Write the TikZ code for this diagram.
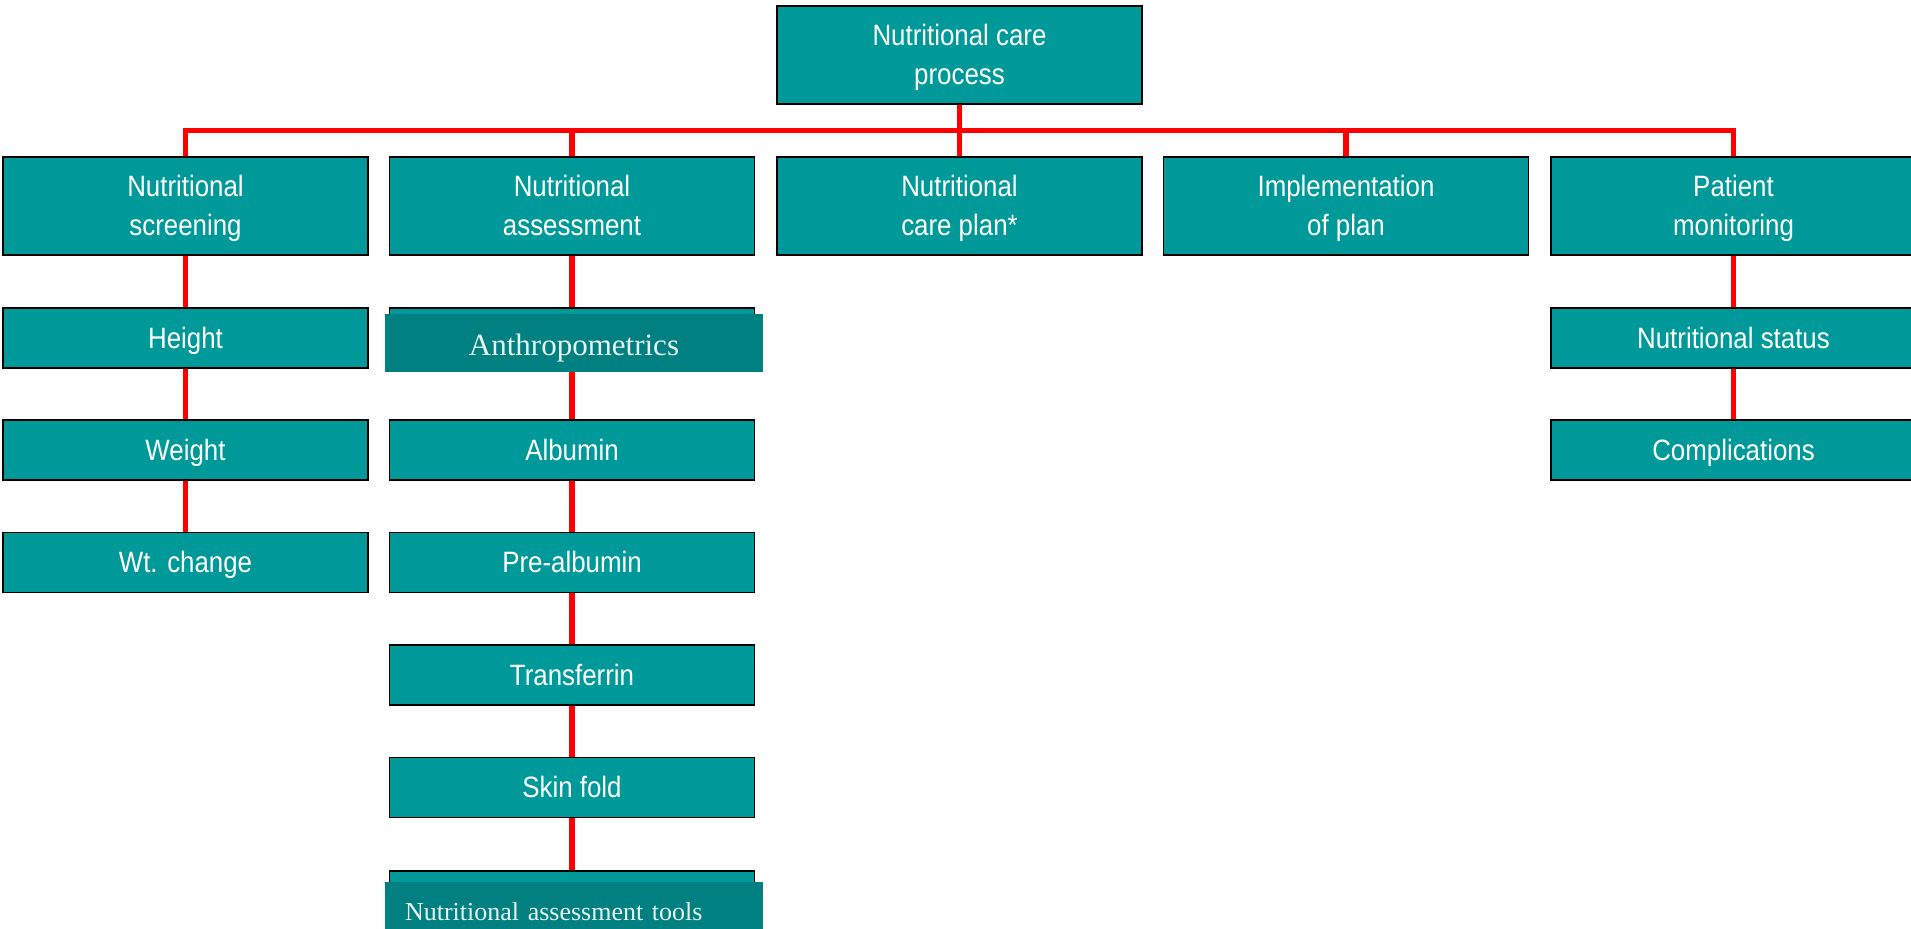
\documentclass[tikz,border=0pt]{standalone}
\usepackage{fontspec}
\setmainfont{Liberation Serif}
\newfontfamily\boxfont[FakeStretch=0.88]{Liberation Sans}
\usetikzlibrary{calc}

\definecolor{boxteal}{RGB}{0,153,153}
\definecolor{darkteal}{RGB}{0,128,128}
\definecolor{paletext}{RGB}{232,244,244}

\tikzset{
  mainbox/.style={draw=black, line width=0.7pt, fill=boxteal, text=white,
    minimum width=182.5pt, minimum height=49pt, inner sep=0pt, align=center,
    font=\boxfont\fontsize{14.7}{19.5}\selectfont, text depth=0.8pt},
  subbox/.style={mainbox, minimum height=30pt, text height=13.2pt, text depth=3.1pt},
  tealcover/.style={fill=darkteal, text=paletext, minimum width=189pt,
    minimum height=29pt, inner sep=0pt, text depth=0pt},
  link/.style={red, line width=2.6pt}
}

\begin{document}
\begin{tikzpicture}[x=0.5pt, y=-0.5pt]
\clip (0,0) rectangle (1911,929);

\node[mainbox] (top) at (959.5,55) {Nutritional care\\process};

\node[mainbox] (scr) at (185.5,206) {Nutritional\\screening};
\node[mainbox] (ass) at (572,206) {Nutritional\\assessment};
\node[mainbox] (plan) at (959.5,206) {Nutritional\\care plan*};
\node[mainbox] (impl) at (1346,206) {Implementation\\of plan};
\node[mainbox] (mon) at (1733.5,206) {Patient\\monitoring};

\node[subbox] (height) at (185.5,338) {Height};
\node[subbox] (weight) at (185.5,450) {Weight};
\node[subbox] (wtchg) at (185.5,562.5) {Wt. change};

\node[subbox] (anthbox) at (572,338) {};
\node[subbox] (alb) at (572,450) {Albumin};
\node[subbox] (prealb) at (572,562.5) {Pre-albumin};
\node[subbox] (transf) at (572,675) {Transferrin};
\node[subbox] (skin) at (572,787.5) {Skin fold};
\node[subbox] (toolbox) at (572,901) {};

\node[subbox] (status) at (1733.5,338) {Nutritional status};
\node[subbox] (compl) at (1733.5,450) {Complications};

\foreach \c in {scr,ass,plan,impl,mon}
  \draw[link] (top.south) -- ++(0,26) -| (\c.north);

\draw[link] (scr) -- (height) -- (weight) -- (wtchg);
\draw[link] (ass) -- (anthbox) -- (alb) -- (prealb) -- (transf) -- (skin) -- (toolbox);
\draw[link] (mon) -- (status) -- (compl);

\node[tealcover, font=\fontsize{15.5}{18}\selectfont, text height=12.9pt] (anth) at (574,343) {Anthropometrics};
\node[tealcover, font=\fontsize{13}{16}\selectfont, text width=169pt, align=left,
  inner xsep=10pt] (tools) at (574,911) {Nutritional assessment tools};
\end{tikzpicture}
\end{document}
